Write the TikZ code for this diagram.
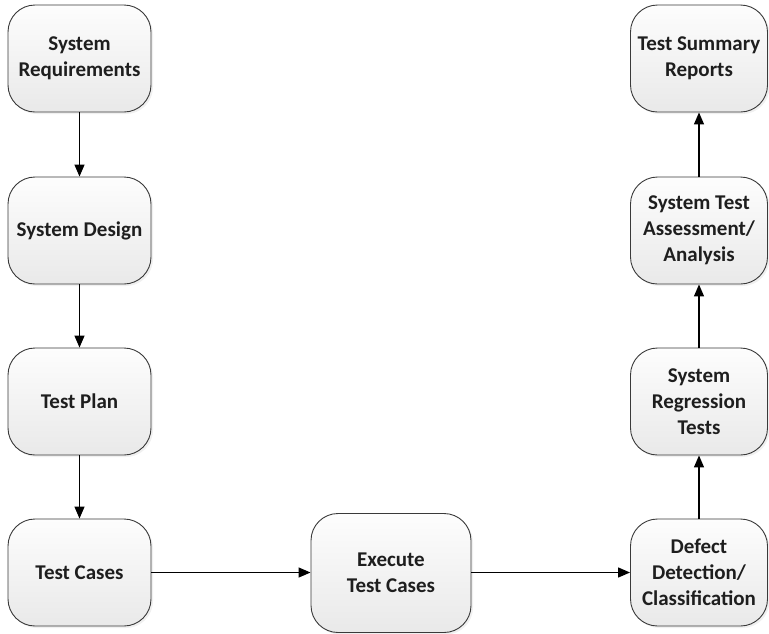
\documentclass[tikz,border=0pt]{standalone}
\usepackage{fontspec}
\setmainfont{Carlito}
\usetikzlibrary{arrows.meta,shadows}
\definecolor{boxline}{HTML}{3A3A3A}
\definecolor{boxtop}{HTML}{FDFDFD}
\definecolor{boxbottom}{HTML}{E9E9E9}
\definecolor{txt}{HTML}{1E1E1E}
\tikzset{
  stage/.style={draw=boxline, line width=0.9pt, rounded corners=27pt,
    top color=boxtop, bottom color=boxbottom,
    drop shadow={opacity=0.12, shadow xshift=2pt, shadow yshift=-2pt},
    align=center, text=txt, inner sep=2pt,
    font=\fontsize{21}{26}\selectfont\bfseries},
  side/.style={stage, minimum width=143pt, minimum height=107pt},
  rside/.style={stage, minimum width=137pt, minimum height=107pt},
  flow/.style={-{Triangle[length=12pt,width=10pt]}, line width=1.3pt, black}
}
\begin{document}
\begin{tikzpicture}[x=1pt,y=-1pt]
  \useasboundingbox (0,0) rectangle (769,633);
  % left column
  \node[side] (req)  at (79.5,58.5)  {System\\Requirements};
  \node[side] (des)  at (79.5,230.5) {System Design};
  \node[side] (plan) at (79.5,401.5) {Test Plan};
  \node[side] (cases) at (79.5,572.5) {Test Cases};
  % middle
  \node[stage, minimum width=160pt, minimum height=119pt] (exec) at (391,573) {Execute\\Test Cases};
  % right column
  \node[rside] (defect) at (699,572.5) {Defect\\Detection/\\Classification};
  \node[rside] (regr)   at (699,401.5) {System\\Regression\\Tests};
  \node[rside] (assess) at (699,230.5) {System Test\\Assessment/\\Analysis};
  \node[rside] (summ)   at (699,58.5)  {Test Summary\\Reports};
  % connectors
  \draw[flow] (req) -- (des);
  \draw[flow] (des) -- (plan);
  \draw[flow] (plan) -- (cases);
  \draw[flow] (cases.east) -- (exec.west |- cases.east);
  \draw[flow] (exec.east |- cases.east) -- (defect.west);
  \draw[flow] (defect) -- (regr);
  \draw[flow] (regr) -- (assess);
  \draw[flow] (assess) -- (summ);
\end{tikzpicture}
\end{document}
